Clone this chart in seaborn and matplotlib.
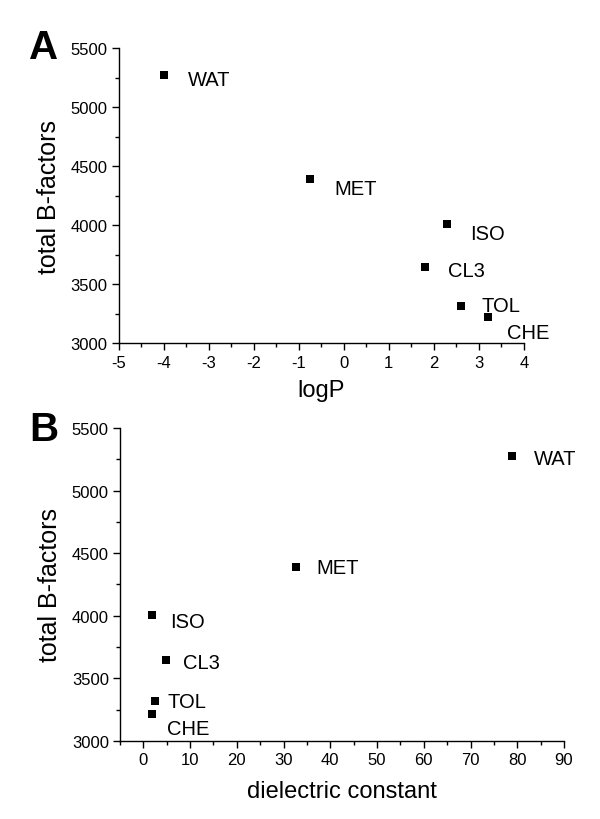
import matplotlib
matplotlib.use('Agg')
import matplotlib.pyplot as plt
import seaborn as sns
import pandas as pd
from matplotlib.ticker import MultipleLocator

solvents = ['WAT', 'MET', 'ISO', 'CL3', 'TOL', 'CHE']
logp = [-4.0, -0.76, 2.3, 1.8, 2.6, 3.2]
dielectric = [78.9, 32.6, 1.8, 4.8, 2.4, 1.9]
bfactors = [5275, 4390, 4010, 3650, 3320, 3220]

# label offsets in pixels (right, up) for each panel
offsets_a = [(24, -5), (25, -9), (23, -9), (23, -4), (21, 0), (19, -15)]
offsets_b = [(22, -2), (21, -1), (18, -7), (17, -3), (13, 0), (15, -15)]

df = pd.DataFrame({'solvent': solvents, 'logP': logp,
                   'dielectric': dielectric, 'B': bfactors})

sns.set_theme(style='ticks')
plt.rcParams['font.family'] = ['Liberation Sans', 'DejaVu Sans']
plt.rcParams['axes.unicode_minus'] = False
plt.rcParams['text.color'] = 'black'
plt.rcParams['axes.labelcolor'] = 'black'

fig = plt.figure(figsize=(6, 8.2), dpi=100)
ax1 = fig.add_axes([0.198, 0.580, 0.675, 0.360])
ax2 = fig.add_axes([0.200, 0.095, 0.740, 0.382])


def style_axis(ax, xmaj, xmin):
    ax.xaxis.set_major_locator(MultipleLocator(xmaj))
    ax.xaxis.set_minor_locator(MultipleLocator(xmin))
    ax.yaxis.set_major_locator(MultipleLocator(500))
    ax.yaxis.set_minor_locator(MultipleLocator(250))
    ax.tick_params(which='major', direction='out', length=5, width=1,
                   labelsize=12, color='black', labelcolor='black', pad=3)
    ax.tick_params(which='minor', direction='out', length=3, width=1, color='black')
    for s in ['top', 'right']:
        ax.spines[s].set_visible(False)
    for s in ['left', 'bottom']:
        ax.spines[s].set_color('black')
        ax.spines[s].set_linewidth(1)
    ax.set_ylabel('total B-factors', fontsize=18, labelpad=7)
    ax.set_ylim(3000, 5500)


sns.scatterplot(data=df, x='logP', y='B', marker='s', color='black',
                s=28, edgecolor='black', linewidth=0, ax=ax1, zorder=3)
style_axis(ax1, 1, 0.5)
ax1.set_xlim(-5, 4)
ax1.set_xlabel('logP', fontsize=17, labelpad=7)
for name, x, y, (dx, dy) in zip(solvents, logp, bfactors, offsets_a):
    ax1.annotate(name, (x, y), xytext=(dx, dy), textcoords='offset pixels',
                 fontsize=14.5, va='center', ha='left')

sns.scatterplot(data=df, x='dielectric', y='B', marker='s', color='black',
                s=28, edgecolor='black', linewidth=0, ax=ax2, zorder=3)
style_axis(ax2, 10, 5)
ax2.set_xlim(-5, 90)
ax2.set_xlabel('dielectric constant', fontsize=17, labelpad=9)
for name, x, y, (dx, dy) in zip(solvents, dielectric, bfactors, offsets_b):
    ax2.annotate(name, (x, y), xytext=(dx, dy), textcoords='offset pixels',
                 fontsize=14.5, va='center', ha='left')

fig.text(0.073, 0.942, 'A', fontsize=29, fontweight='bold', va='center', ha='center')
fig.text(0.073, 0.475, 'B', fontsize=29, fontweight='bold', va='center', ha='center')

plt.savefig('out.png', dpi=100)
plt.close()
